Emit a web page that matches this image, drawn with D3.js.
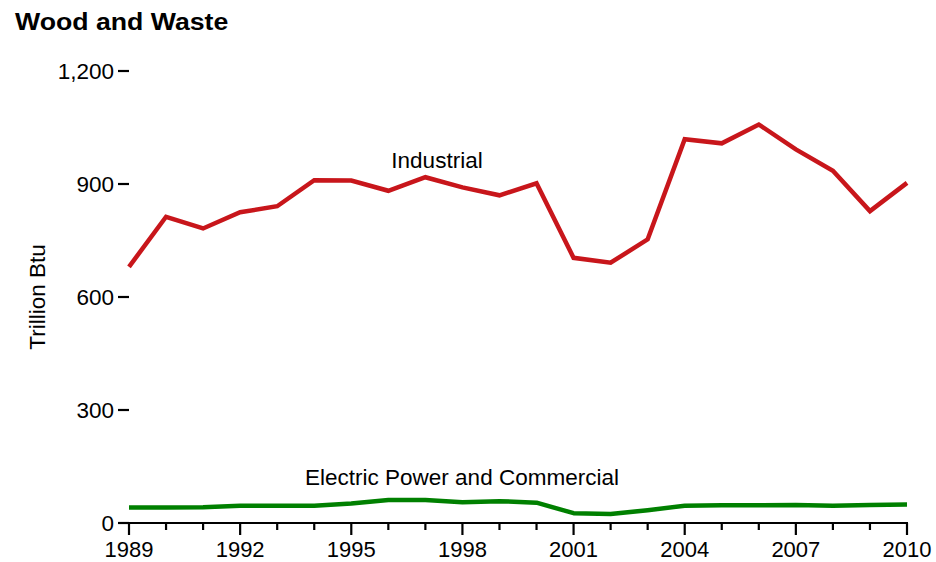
<!DOCTYPE html>
<html><head><meta charset="utf-8">
<script src="https://cdn.jsdelivr.net/npm/d3@7"></script>
<style>body{margin:0;background:#fff;}svg{display:block;font-family:"Liberation Sans",Arial,sans-serif;}</style>
</head><body>
<svg id="c" width="936" height="562"></svg>
<script>
const years = d3.range(1989, 2011);
const industrial = [680,813,782,825,841,910,909,882,918,891,870,902,704,691,753,1019,1008,1058,992,935,828,903];
const electricCommercial = [41,41,42,46,46,46,52,61,61,55,58,54,26,24,34,46,47,47,48,46,48,49];
const yTicks = [0,300,600,900,1200];
const xTickLabels = [1989,1992,1995,1998,2001,2004,2007,2010];

const svg = d3.select("#c");
const x = d3.scaleLinear().domain([1989,2010]).range([129,907]);
const y = d3.scaleLinear().domain([0,1200]).range([523,71]);

svg.append("text").attr("transform","translate(15,30) scale(1.16,1)").attr("font-size",23).attr("font-weight","bold").text("Wood and Waste");

// x axis
const xa = svg.append("g").attr("transform","translate(0,523)");
xa.append("line").attr("x1",x(1989)-1).attr("x2",x(2010)+1).attr("stroke","#000").attr("stroke-width",2.2);
xa.selectAll("line.t").data(years).join("line").attr("class","t")
  .attr("x1",d=>x(d)).attr("x2",d=>x(d)).attr("y1",0).attr("y2",d=>xTickLabels.includes(d)?12:7)
  .attr("stroke","#000").attr("stroke-width",2.2);
xa.selectAll("text").data(xTickLabels).join("text")
  .attr("x",d=>x(d)).attr("y",34).attr("text-anchor","middle").attr("font-size",22).text(d=>d);

// y axis ticks
const ya = svg.append("g");
ya.selectAll("line").data(yTicks).join("line")
  .attr("x1",118).attr("x2",129).attr("y1",d=>y(d)).attr("y2",d=>y(d)).attr("stroke","#000").attr("stroke-width",2.2);
ya.selectAll("text").data(yTicks).join("text")
  .attr("x",114).attr("y",d=>y(d)).attr("dy","0.36em").attr("text-anchor","end").attr("font-size",22.5)
  .text(d=>d3.format(",")(d));

svg.append("text").attr("transform","translate(45,297) rotate(-90)").attr("text-anchor","middle")
  .attr("font-size",22.5).text("Trillion Btu");

const line = d3.line().x((d,i)=>x(years[i])).y(d=>y(d));
svg.append("path").datum(industrial).attr("d",line).attr("fill","none").attr("stroke","#c8161b").attr("stroke-width",4.5).attr("stroke-linejoin","miter");
svg.append("path").datum(electricCommercial).attr("d",line).attr("fill","none").attr("stroke","#008000").attr("stroke-width",4.5).attr("stroke-linejoin","round");

svg.append("text").attr("x",437).attr("y",168).attr("text-anchor","middle").attr("font-size",22.5).text("Industrial");
svg.append("text").attr("x",462).attr("y",485).attr("text-anchor","middle").attr("font-size",22.5).text("Electric Power and Commercial");
</script>
</body></html>
